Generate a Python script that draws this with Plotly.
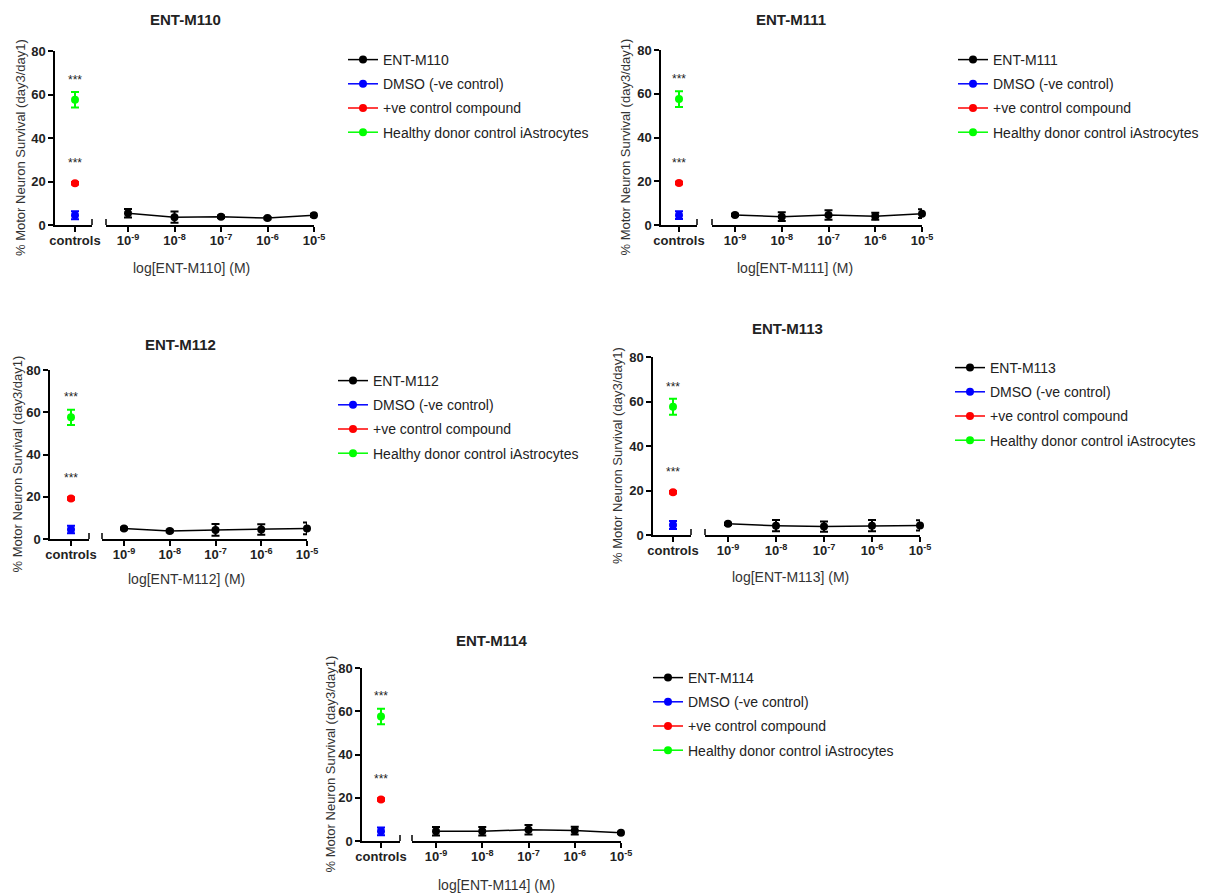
import plotly.graph_objects as go

W, H = 1205, 893

compounds = ["ENT-M110", "ENT-M111", "ENT-M112", "ENT-M113", "ENT-M114"]
log_conc = [-9, -8, -7, -6, -5]
conc_ticktext = ["10<sup>-9</sup>", "10<sup>-8</sup>", "10<sup>-7</sup>", "10<sup>-6</sup>", "10<sup>-5</sup>"]

m110_values = [5.4, 3.6, 3.8, 3.2, 4.5]
m110_errors = [2.0, 2.6, 0.6, 0.5, 0.7]
m111_values = [4.6, 3.8, 4.6, 4.0, 5.2]
m111_errors = [0.5, 2.0, 2.2, 1.6, 2.0]
m112_values = [5.0, 3.8, 4.3, 4.5, 5.0]
m112_errors = [0.5, 0.6, 2.8, 2.5, 2.8]
m113_values = [5.0, 4.2, 3.8, 4.2, 4.3]
m113_errors = [0.5, 2.5, 2.3, 2.5, 2.3]
m114_values = [4.5, 4.5, 5.2, 4.8, 3.8]
m114_errors = [2.0, 2.0, 2.2, 1.8, 0.5]

series_values = [m110_values, m111_values, m112_values, m113_values, m114_values]
series_errors = [m110_errors, m111_errors, m112_errors, m113_errors, m114_errors]

control_names = ["DMSO (-ve control)", "+ve control compound", "Healthy donor control iAstrocytes"]
control_values = [4.5, 19.2, 57.6]
control_errors = [1.8, 0.6, 3.6]
control_colors = ["#0000FF", "#FF0000", "#00FF00"]
control_sig = ["", "***", "***"]
y_ticks = [0, 20, 40, 60, 80]

# panel geometry in pixels
panels = [
    dict(yx=55, top=51, bot=225, cend=92, ctick=75, cs=106, ft=128, ce=314,
         title=(185, 20), xt=(191, 268), yt=20, leg=(343, 44)),
    dict(yx=661, top=50, bot=225, cend=697, ctick=679, cs=712, ft=735, ce=922,
         title=(791, 20), xt=(795, 268), yt=625, leg=(953, 44)),
    dict(yx=50, top=370, bot=539, cend=89, ctick=71, cs=102, ft=124, ce=307,
         title=(180, 344), xt=(186, 579), yt=17, leg=(333, 365)),
    dict(yx=653, top=357, bot=535, cend=691, ctick=673, cs=705, ft=728, ce=920,
         title=(787, 328), xt=(790, 577), yt=617, leg=(950, 352)),
    dict(yx=362, top=668, bot=841, cend=400, ctick=381, cs=412, ft=436, ce=621,
         title=(492, 640), xt=(496, 885), yt=330, leg=(648, 662)),
]

FONT = "Arial, Liberation Sans, sans-serif"
TXT = "#222222"

fig = go.Figure()
layout = dict(
    width=W, height=H, margin=dict(l=0, r=0, t=0, b=0, autoexpand=False),
    paper_bgcolor="white", plot_bgcolor="white", showlegend=True,
    font=dict(family=FONT, color=TXT),
)
annotations = []
shapes = []


def px(x):
    return x / W


def py(y):
    return 1 - y / H


for i, (name, p) in enumerate(zip(compounds, panels)):
    cx = f"x{2 * i + 1}"
    kx = f"x{2 * i + 2}"
    yy = f"y{i + 1}"
    cx_key = "xaxis" if i == 0 else f"xaxis{2 * i + 1}"
    kx_key = f"xaxis{2 * i + 2}"
    y_key = "yaxis" if i == 0 else f"yaxis{i + 1}"
    cx_ref = "x" if i == 0 else cx
    y_ref = "y" if i == 0 else yy
    leg = "legend" if i == 0 else f"legend{i + 1}"

    ydom = [py(p["bot"]), py(p["top"])]
    f = (p["ctick"] - p["yx"]) / (p["cend"] - p["yx"])
    cdom = [px(p["yx"]), px(p["cend"])]
    kdom = [px(p["cs"]), px(p["ce"])]
    ext = (p["ft"] - p["cs"]) / (p["ce"] - p["ft"]) * 4

    axis_common = dict(showline=True, linecolor="black", linewidth=1.5, ticks="outside",
                       ticklen=5, tickwidth=1.5, tickcolor="black", showgrid=False,
                       zeroline=False, fixedrange=True, automargin=False,
                       tickfont=dict(family=FONT, size=13, color=TXT, weight="bold"))
    layout[cx_key] = dict(axis_common, domain=cdom, anchor=y_ref, range=[-f, 1 - f],
                          tickvals=[0], ticktext=["controls"], ticklabelstandoff=-2)
    layout[kx_key] = dict(axis_common, domain=kdom, anchor=y_ref, range=[-9 - ext, -5],
                          tickvals=log_conc, ticktext=conc_ticktext, ticklabelstandoff=-2)
    layout[y_key] = dict(axis_common, domain=ydom, anchor=cx_ref, range=[0, 80],
                         tickvals=y_ticks)

    fig.add_trace(go.Scatter(
        x=log_conc, y=series_values[i], name=name, mode="lines+markers",
        xaxis=kx, yaxis=yy, legend=leg, legendgroup=f"{i}a", cliponaxis=False,
        line=dict(color="black", width=1.5), marker=dict(color="black", size=8),
        error_y=dict(type="data", array=series_errors[i], color="black", thickness=2, width=4),
    ))
    for j, (cn, cv, ce, cc, sig) in enumerate(zip(control_names, control_values, control_errors,
                                                  control_colors, control_sig)):
        fig.add_trace(go.Scatter(
            x=[0], y=[cv], name=cn, mode="lines+markers", xaxis=cx, yaxis=yy,
            legend=leg, legendgroup=f"{i}{j}", cliponaxis=False,
            line=dict(color=cc, width=1.5), marker=dict(color=cc, size=8),
            error_y=dict(type="data", array=[ce], color=cc, thickness=2, width=4),
        ))
        if sig:
            annotations.append(dict(x=0, y=cv, xref=cx_ref, yref=y_ref, text=sig,
                                    showarrow=False, yshift=20, yanchor="middle",
                                    font=dict(size=12, color=TXT, family=FONT)))

    layout[leg] = dict(x=px(p["leg"][0]), y=py(p["leg"][1]), xanchor="left", yanchor="top",
                       font=dict(family=FONT, size=14, color=TXT), tracegroupgap=3,
                       traceorder="grouped", bgcolor="rgba(0,0,0,0)")

    # axis break marks
    shapes.append(dict(type="line", xref=f"{cx_ref} domain", x0=1, x1=1, yref=y_ref,
                       ysizemode="pixel", yanchor=0, y0=-6, y1=6,
                       line=dict(color="black", width=1.5)))
    shapes.append(dict(type="line", xref=f"{kx} domain", x0=0, x1=0, yref=y_ref,
                       ysizemode="pixel", yanchor=0, y0=-6, y1=6,
                       line=dict(color="black", width=1.5)))

    annotations.append(dict(x=px(p["title"][0]), y=py(p["title"][1]), xref="paper", yref="paper",
                            text=f"<b>{name}</b>", showarrow=False, xanchor="center", yanchor="middle",
                            font=dict(size=15, color=TXT, family=FONT)))
    annotations.append(dict(x=px(p["xt"][0]), y=py(p["xt"][1]), xref="paper", yref="paper",
                            text=f"log[{name}] (M)", showarrow=False, xanchor="center", yanchor="middle",
                            font=dict(size=14, color="#333333", family=FONT)))
    annotations.append(dict(x=px(p["yt"]), y=(ydom[0] + ydom[1]) / 2 - 10 / H, xref="paper", yref="paper",
                            text="% Motor Neuron Survival (day3/day1)", showarrow=False, textangle=-90,
                            xanchor="center", yanchor="middle",
                            font=dict(size=13, color="#333333", family=FONT)))

layout["annotations"] = annotations
layout["shapes"] = shapes
fig.update_layout(**layout)
fig.write_html("out.html")
